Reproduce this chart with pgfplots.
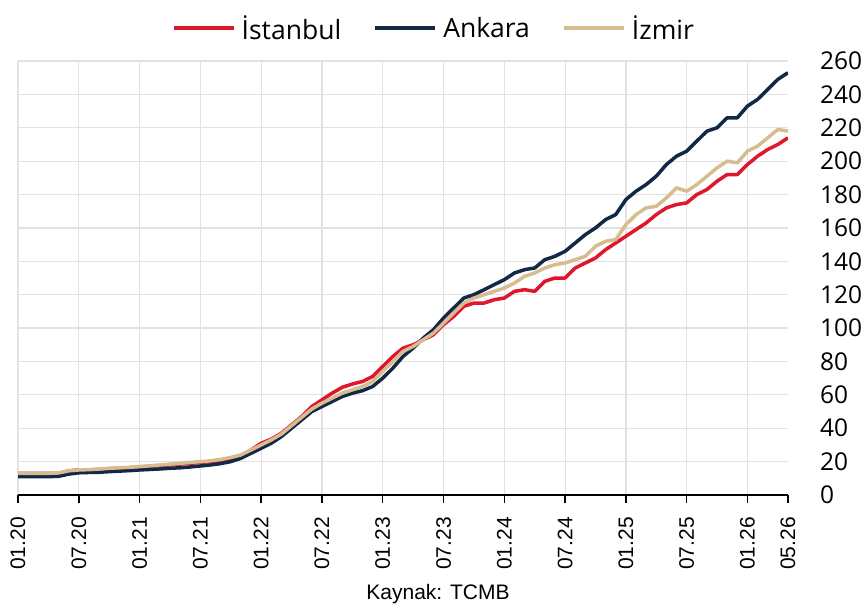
\documentclass[border=0pt]{standalone}
\usepackage{fontspec}
\setmainfont{Open Sans}
\newfontfamily\arial{Liberation Sans}
\usepackage{pgfplots}
\usepackage{pgfplotstable}
\pgfplotsset{compat=1.18}

\definecolor{istred}{RGB}{222,22,46}
\definecolor{ankblue}{RGB}{18,40,70}
\definecolor{izmtan}{RGB}{214,188,142}
\definecolor{gridgray}{RGB}{226,226,226}

% month index 0 = 01.2020 ... 76 = 05.2026
\pgfplotstableread{
m ist ank izm
0 13 11 13
1 13 11 13
2 13 11 13
3 13 11 13
4 13 11.2 13.2
5 14.5 12.5 14.5
6 15 13.3 15
7 15 13.5 15.2
8 15.3 13.6 15.5
9 15.8 14 16
10 16 14.3 16.3
11 16.3 14.6 16.6
12 16.8 15 17
13 17.2 15.3 17.5
14 17.6 15.6 18
15 18 16 18.5
16 18.5 16.3 19
17 19 16.8 19.5
18 19.5 17.4 20
19 20 18 20.5
20 20.5 18.8 21.3
21 21.5 20 22.5
22 23.5 22 24
23 27 25 27
24 31 28 30
25 33.5 31 33
26 37 35 36.5
27 42 40 41.5
28 47 45 46.5
29 53 50 51.5
30 57 53 55
31 61 56 58
32 64.5 59 61
33 66.5 61 63
34 68 62.5 65
35 71 65 68
36 77 70 74
37 83 76 80
38 88 83 86
39 90 88 89
40 93 94 93
41 96 99 97
42 102 106 103
43 107 112 109
44 113 118 115
45 115 120 118
46 115 123 120
47 117 126 122
48 118 129 124
49 122 133 127
50 123 135 131
51 122 136 133
52 128 141 136
53 130 143 138
54 130 146 139
55 136 151 141
56 139 156 143
57 142 160 149
58 147 165 152
59 151 168 153
60 155 177 162
61 159 182 168
62 163 186 172
63 168 191 173
64 172 198 178
65 174 203 184
66 175 206 182
67 180 212 186
68 183 218 191
69 188 220 196
70 192 226 200
71 192 226 199
72 198 233 206
73 203 237 209
74 207 243 214
75 210 249 219
76 214 253 218
}\datatable

\begin{document}
\begin{tikzpicture}
\useasboundingbox (0pt,0pt) rectangle (866pt,606pt);
\begin{axis}[
    at={(18pt,111pt)}, anchor=south west,
    scale only axis,
    width=770pt, height=434pt,
    xmin=0, xmax=76,
    ymin=0, ymax=260,
    axis x line*=bottom,
    axis y line*=right,
    y axis line style={draw=none},
    x axis line style={black, line width=1.8pt},
    xtick={0,6,12,18,24,30,36,42,48,54,60,66,72},
    xticklabels={01.20,07.20,01.21,07.21,01.22,07.22,01.23,07.23,01.24,07.24,01.25,07.25,01.26},
    extra x ticks={76},
    extra x tick labels={05.26},
    extra x tick style={grid=none},
    ytick={0,20,...,260},
    tick align=outside,
    major tick length=8pt,
    x tick style={black, line width=1.5pt},
    y tick style={draw=none},
    xmajorgrids=true, ymajorgrids=true,
    grid style={gridgray, line width=1.2pt},
    xticklabel style={anchor=east, rotate=90, font=\arial\fontsize{21}{24}\selectfont, inner sep=0pt, xshift=-14pt},
    yticklabel style={anchor=west, font=\fontsize{24.5}{28}\selectfont, inner sep=0pt, xshift=24pt},
    /pgf/number format/assume math mode=true,
    legend columns=3,
    legend style={draw=none, fill=none, at={(0.540,1.076)}, anchor=center,
        font=\fontsize{26.5}{30}\selectfont,
        /tikz/every odd column/.append style={column sep=4pt},
        /tikz/every even column/.append style={column sep=30pt},
        nodes={inner sep=2pt}},
    legend image code/.code={\draw[#1, line width=4pt] (0pt,0pt) -- (60pt,0pt);},
    every axis plot/.append style={line width=3.5pt, line join=round},
]
\addplot[istred, no marks] table[x=m, y=ist] {\datatable};
\addlegendentry{İstanbul}
\addplot[ankblue, no marks] table[x=m, y=ank] {\datatable};
\addlegendentry{Ankara}
\addplot[izmtan, no marks] table[x=m, y=izm] {\datatable};
\addlegendentry{İzmir}
\end{axis}
\node[font=\arial\fontsize{21}{24}\selectfont, anchor=base] at (438pt,7pt) {Kaynak: TCMB};
\end{tikzpicture}
\end{document}
